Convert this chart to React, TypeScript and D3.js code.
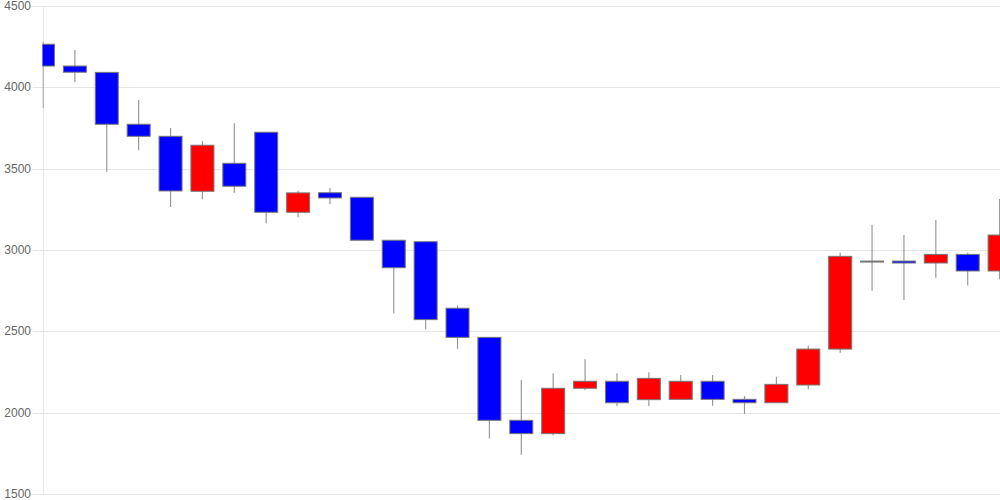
import React from "react";
import * as d3 from "d3";

const categories = Array.from({ length: 31 }, (_, i) => String(i + 1));
const openValues = [4265, 4131, 4092, 3773, 3699, 3361, 3533, 3724, 3232, 3352, 3324, 3060, 3051, 2642, 2463, 1953, 1871, 2150, 2193, 2080, 2082, 2193, 2082, 2061, 2170, 2391, 2932, 2932, 2920, 2973, 2871];
const closeValues = [4131, 4093, 3773, 3699, 3363, 3644, 3392, 3232, 3351, 3320, 3060, 2891, 2572, 2463, 1953, 1871, 2150, 2193, 2061, 2211, 2193, 2082, 2061, 2174, 2391, 2961, 2932, 2920, 2973, 2871, 3092];
const highValues = [4281, 4230, 4092, 3922, 3750, 3670, 3779, 3724, 3365, 3381, 3324, 3060, 3051, 2660, 2463, 2201, 2242, 2328, 2242, 2248, 2232, 2232, 2102, 2221, 2412, 2983, 3154, 3092, 3185, 2983, 3314];
const lowValues = [3873, 4031, 3481, 3613, 3265, 3312, 3352, 3164, 3201, 3281, 3060, 2611, 2513, 2393, 1842, 1742, 1861, 2139, 2041, 2041, 2082, 2043, 1992, 2061, 2144, 2369, 2750, 2693, 2830, 2781, 2820];
const yTicks = [1500, 2000, 2500, 3000, 3500, 4000, 4500];

export default function App() {
  const W = 1000;
  const H = 500;
  const left = 43;
  const right = 1000;
  const x = d3.scalePoint<string>().domain(categories).range([43, 999.6]).padding(0);
  const y = d3.scaleLinear().domain([1500, 4500]).range([494, 6]);
  const bw = 23;

  return (
    <svg width={W} height={H} style={{ position: "absolute", left: 0, top: 0, background: "#fff" }}>
      <defs>
        <clipPath id="plot">
          <rect x={left - 0.5} y={0} width={right - left + 0.5} height={H} />
        </clipPath>
      </defs>
      {yTicks.map((t) => (
        <g key={t}>
          <line x1={33} x2={W} y1={Math.round(y(t)) + 0.5} y2={Math.round(y(t)) + 0.5} stroke="#e6e6e6" strokeWidth={1} />
          <text
            x={31}
            y={y(t)}
            textAnchor="end"
            dominantBaseline="central"
            fontFamily="Liberation Sans, Arial, sans-serif"
            fontSize={12}
            fill="#666"
          >
            {t}
          </text>
        </g>
      ))}
      <line x1={left + 0.5} x2={left + 0.5} y1={6} y2={494} stroke="#e6e6e6" strokeWidth={1} />
      <g clipPath="url(#plot)">
        {categories.map((c, i) => {
          const cx = x(c) as number;
          const o = openValues[i];
          const cl = closeValues[i];
          const up = cl > o;
          const flat = cl === o;
          const top = y(Math.max(o, cl));
          const bot = y(Math.min(o, cl));
          const fill = flat ? "#666" : up ? "#ff0000" : "#0000ff";
          return (
            <g key={c}>
              <line x1={cx} x2={cx} y1={y(highValues[i])} y2={y(lowValues[i])} stroke="#999" strokeWidth={1.2} />
              <rect
                x={cx - bw / 2}
                y={top}
                width={bw}
                height={Math.max(bot - top, 1)}
                fill={fill}
                stroke="#777"
                strokeWidth={1}
              />
            </g>
          );
        })}
      </g>
    </svg>
  );
}
